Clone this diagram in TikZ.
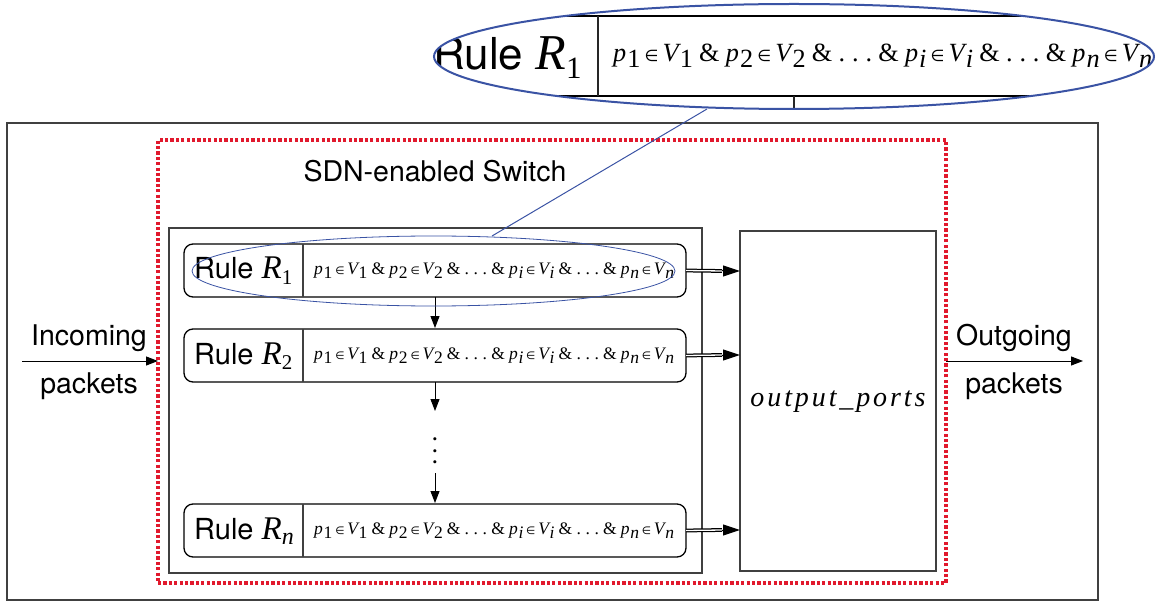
\documentclass[tikz,border=0pt]{standalone}
\usepackage{fontspec}
\setmainfont{TeX Gyre Heros}
\newfontfamily\ser{Liberation Serif}
\newfontfamily\dejavu{DejaVu Sans}
\usetikzlibrary{arrows.meta,shapes.geometric}
\newcommand\subs[1]{\kern.8pt\raisebox{-4.6pt}{\fontsize{19}{19}\selectfont\ser\itshape #1}}
\newcommand\subu[1]{\kern.8pt\raisebox{-4.6pt}{\fontsize{19}{19}\selectfont\ser #1}}
\newcommand\itm[1]{{\ser\itshape #1}}
\newcommand\elem{\kern3pt{\fontsize{11.5}{11.5}\selectfont\dejavu ∈}\kern3pt}
\newcommand\amp{\kern4.5pt{\ser\&}\kern4.5pt}
\newcommand\formula{\fontsize{19}{19}\selectfont\ser
  \itm{p}\subu{1}\elem\itm{V}\subu{1}\amp\itm{p}\subu{2}\elem\itm{V}\subu{2}\amp
  .\kern5pt.\kern5pt.\amp\itm{p}\subs{i}\elem\itm{V}\subs{i}\amp.\kern5pt.\kern5pt.\amp
  \itm{p}\subs{n}\elem\itm{V}\subs{n}}
\newcommand\smallformula{\resizebox{360pt}{!}{\formula}}
\newcommand\bigformula{\resizebox{539pt}{!}{\formula}}
\newcommand\rulelabel[2]{\fontsize{#1}{#1}\selectfont Rule {\ser\itshape\fontsize{1.14\dimexpr#1pt\relax}{1em}\selectfont R}#2}
\definecolor{ringblue}{RGB}{58,83,164}
\definecolor{dotred}{RGB}{225,25,45}
\tikzset{
  x=1pt,y=-1pt,
  frame/.style={draw=black!75,line width=1.25pt,rectangle,inner sep=0,outer sep=0,anchor=north west},
  rulebox/.style={draw=black,line width=1.3pt,rectangle,rounded corners=9pt,inner sep=0,outer sep=0,anchor=north west,minimum width=502pt,minimum height=53pt},
  lbl/.style={font=\fontsize{28.5}{28.5}\selectfont,inner sep=0},
  flow/.style={-{Triangle[length=12pt,width=9pt]},line width=1pt,black},
  dbl/.style={draw=black,line width=3.8pt},
  dblin/.style={draw=white,line width=1.3pt},
  tip/.style={-{Triangle[length=17pt,width=11pt]},line width=1pt,black},
}
\begin{document}
\begin{tikzpicture}
\useasboundingbox (0,0) rectangle (1155,601);
% frames
\node[frame,minimum width=1091pt,minimum height=477pt] (outer) at (7,123) {};
\node[rectangle,draw=dotred,line width=3.2pt,dash pattern=on 3.2pt off 2.2pt,anchor=north west,inner sep=0,outer sep=0,minimum width=788pt,minimum height=443pt] (switch) at (158,140) {};
\node[frame,minimum width=533pt,minimum height=345pt] (table) at (169,228) {};
\node[frame,minimum width=196pt,minimum height=340pt] (ports) at (740,231) {};
\node[lbl] (title) at (435,171.5) {SDN-enabled Switch};
\node[font=\fontsize{28}{28}\selectfont\ser\itshape,inner sep=0] (portlabel) at (838,402) {o\kern2.9pt u\kern2.9pt t\kern2.9pt p\kern2.9pt u\kern2.9pt t\kern2.9pt\_\kern2.9pt p\kern2.9pt o\kern2.9pt r\kern2.9pt t\kern2.9pt s};
% rules
\node[rulebox] (r1) at (184,244) {};
\node[rulebox] (r2) at (184,329) {};
\node[rulebox] (rn) at (184,504) {};
\foreach \r/\lab/\s in {r1/1/{\fontsize{21}{21}\selectfont\ser 1},r2/2/{\fontsize{21}{21}\selectfont\ser 2},rn/n/{\fontsize{24}{24}\selectfont\ser\itshape n}}{
  \draw[line width=1.2pt,black!75] ([xshift=119pt]\r.north west) -- ([xshift=119pt]\r.south west);
  \node[anchor=base west,inner sep=0] (\r lab) at ([xshift=10pt,yshift=-35pt]\r.north west) {\rulelabel{29}{\raisebox{-.35ex}{\s}}};
  \node[anchor=west,inner sep=0] (\r f) at ([xshift=130pt]\r.west) {\smallformula};
}
% vertical flow
\node[inner sep=0,font=\fontsize{26}{26}\selectfont] (dots) at (435,451) {\rotatebox{90}{\ser .\hspace{5pt}.\hspace{5pt}.}};
\coordinate (a1) at (435,297);
\coordinate (a2) at (435,328);
\coordinate (a3) at (435,382);
\coordinate (a4) at (435,411);
\coordinate (a5) at (435,473);
\coordinate (a6) at (435,503);
\draw[flow] (a1) -- (a2);
\draw[flow] (a3) -- (a4);
\draw[flow] (a5) -- (a6);
% double arrows to ports
\foreach \r/\y in {r1/271,r2/355,rn/530}{
  \coordinate (\r d) at (722,\y);
  \coordinate (\r p) at (740,\y);
  \draw[dbl] (\r.east) -- (\r d);
  \draw[dblin] (\r.east) -- (\r d);
  \draw[tip] (\r d) -- (\r p);
}
% in / out
\coordinate (inA) at (22,361);
\coordinate (inB) at (158,361);
\coordinate (outA) at (946,361);
\coordinate (outB) at (1083,361);
\draw[flow] (inA) -- (inB);
\draw[flow] (outA) -- (outB);
\node[lbl] (in1) at (89,338) {Incoming};
\node[lbl] (in2) at (89,386) {packets};
\node[lbl] (out1) at (1014,338) {Outgoing};
\node[lbl] (out2) at (1014,386) {packets};
% small ring
\node[ellipse,draw=ringblue,line width=0.8pt,inner sep=0,outer sep=0,minimum width=483pt,minimum height=70pt] (ring) at (433.5,271) {};
% big magnified rule
\begin{scope}
  \clip (794,56.5) ellipse [x radius=360,y radius=52.5];
  \node[draw=black,line width=1.6pt,rectangle,inner sep=0,outer sep=0,anchor=north west,minimum width=900pt,minimum height=80pt] (bigrule) at (400,16) {};
  \coordinate (divT) at (598,16);
  \coordinate (divB) at (598,96);
  \coordinate (tickT) at (794,96);
  \coordinate (tickB) at (794,110);
  \draw[line width=1.4pt,black!85] (divT) -- (divB);
  \draw[line width=1.2pt,black!85] (tickT) -- (tickB);
  \node[anchor=base west,inner sep=0] (biglab) at (433,70) {\rulelabel{44}{\raisebox{-.35ex}{\fontsize{31}{31}\selectfont\ser 1}}};
  \node[anchor=west,inner sep=0] (bigf) at (613,56) {\bigformula};
\end{scope}
\node[ellipse,draw=ringblue,line width=2pt,inner sep=0,outer sep=0,minimum width=720pt,minimum height=105pt] (bigring) at (794,56.5) {};
\coordinate (lens1) at (492,236);
\coordinate (lens2) at (707,109);
\draw[draw=ringblue,line width=1pt] (lens1) -- (lens2);
\end{tikzpicture}
\end{document}
